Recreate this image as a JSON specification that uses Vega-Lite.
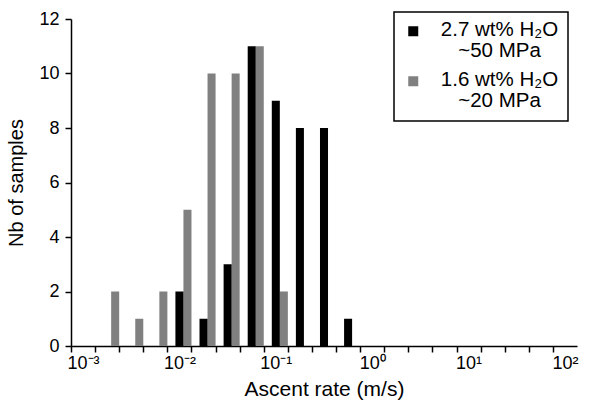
{
  "$schema": "https://vega.github.io/schema/vega-lite/v6.json",
  "width": 506,
  "height": 327,
  "autosize": {"type": "none"},
  "padding": {"left": 71, "top": 19, "right": 13, "bottom": 59},
  "background": "white",
  "config": {
    "view": {"stroke": null},
    "font": "Liberation Sans",
    "axis": {"grid": false, "domainColor": "black", "labelColor": "black", "titleColor": "black", "titleFontWeight": "normal", "labelFont": "Liberation Sans", "titleFont": "Liberation Sans"}
  },
  "data": {
    "values": [
      {"rate": 0.001778, "series": "1.6 wt% H₂O", "count": 2},
      {"rate": 0.003162, "series": "1.6 wt% H₂O", "count": 1},
      {"rate": 0.005623, "series": "1.6 wt% H₂O", "count": 2},
      {"rate": 0.01, "series": "1.6 wt% H₂O", "count": 5},
      {"rate": 0.01778, "series": "1.6 wt% H₂O", "count": 10},
      {"rate": 0.03162, "series": "1.6 wt% H₂O", "count": 10},
      {"rate": 0.05623, "series": "1.6 wt% H₂O", "count": 11},
      {"rate": 0.1, "series": "1.6 wt% H₂O", "count": 2},
      {"rate": 0.01, "series": "2.7 wt% H₂O", "count": 2},
      {"rate": 0.01778, "series": "2.7 wt% H₂O", "count": 1},
      {"rate": 0.03162, "series": "2.7 wt% H₂O", "count": 3},
      {"rate": 0.05623, "series": "2.7 wt% H₂O", "count": 11},
      {"rate": 0.1, "series": "2.7 wt% H₂O", "count": 9},
      {"rate": 0.1778, "series": "2.7 wt% H₂O", "count": 8},
      {"rate": 0.3162, "series": "2.7 wt% H₂O", "count": 8},
      {"rate": 0.5623, "series": "2.7 wt% H₂O", "count": 1}
    ]
  },
  "mark": {"type": "bar"},
  "encoding": {
    "x": {
      "field": "rate",
      "type": "ordinal",
      "scale": {
        "domain": [0.001, 0.001778, 0.003162, 0.005623, 0.01, 0.01778, 0.03162, 0.05623, 0.1, 0.1778, 0.3162, 0.5623, 1, 1.778, 3.162, 5.623, 10, 17.78, 31.62, 56.23, 100],
        "paddingInner": 0,
        "paddingOuter": 0
      },
      "axis": {
        "title": "Ascent rate (m/s)",
        "titleFontSize": 21,
        "titlePadding": 6,
        "labelFontSize": 18,
        "labelAngle": 0,
        "labelOverlap": false,
        "labelPadding": 2,
        "ticks": true,
        "tickOffset": -12.05,
        "labelOffset": 12.05,
        "tickColor": "black",
        "tickSize": 6,
        "tickWidth": 1.5,
        "domainWidth": 1.5,
        "labelExpr": "datum.value == 0.001 ? '10⁻³' : datum.value == 0.01 ? '10⁻²' : datum.value == 0.1 ? '10⁻¹' : datum.value == 1 ? '10⁰' : datum.value == 10 ? '10¹' : datum.value == 100 ? '10²' : ''"
      }
    },
    "xOffset": {
      "field": "series",
      "type": "nominal",
      "scale": {"domain": ["2.7 wt% H₂O", "1.6 wt% H₂O"], "paddingInner": 0, "paddingOuter": 0.5, "align": 1}
    },
    "y": {
      "field": "count",
      "type": "quantitative",
      "scale": {"domain": [0, 12], "nice": false},
      "axis": {
        "title": "Nb of samples",
        "titleFontSize": 20,
        "titlePadding": 12,
        "labelFontSize": 18,
        "values": [0, 2, 4, 6, 8, 10, 12],
        "tickColor": "black",
        "tickSize": 6,
        "tickWidth": 1.5,
        "domainWidth": 1.5,
        "labelPadding": 6
      }
    },
    "color": {
      "field": "series",
      "type": "nominal",
      "scale": {"domain": ["2.7 wt% H₂O", "1.6 wt% H₂O"], "range": ["#000000", "#808080"]},
      "legend": {
        "orient": "none",
        "legendX": 323,
        "legendY": -7,
        "title": null,
        "symbolType": "square",
        "symbolSize": 100,
        "symbolStrokeWidth": 0,
        "labelFont": "Liberation Sans",
        "labelFontSize": 20.5,
        "labelColor": "black",
        "labelLimit": 300,
        "labelBaseline": "top",
        "labelAlign": "center",
        "labelOffset": 12,
        "labelExpr": "datum.label == '2.7 wt% H₂O' ? ['2.7 wt% H₂O', '~50 MPa'] : ['1.6 wt% H₂O', '~20 MPa']",
        "strokeColor": "black",
        "padding": 9,
        "rowPadding": 8,
        "encode": {
          "labels": {"update": {"lineHeight": {"value": 21}, "dy": {"value": -11}, "dx": {"value": 64}}},
          "legend": {"update": {"strokeWidth": {"value": 1.5}}}
        }
      }
    }
  }
}
